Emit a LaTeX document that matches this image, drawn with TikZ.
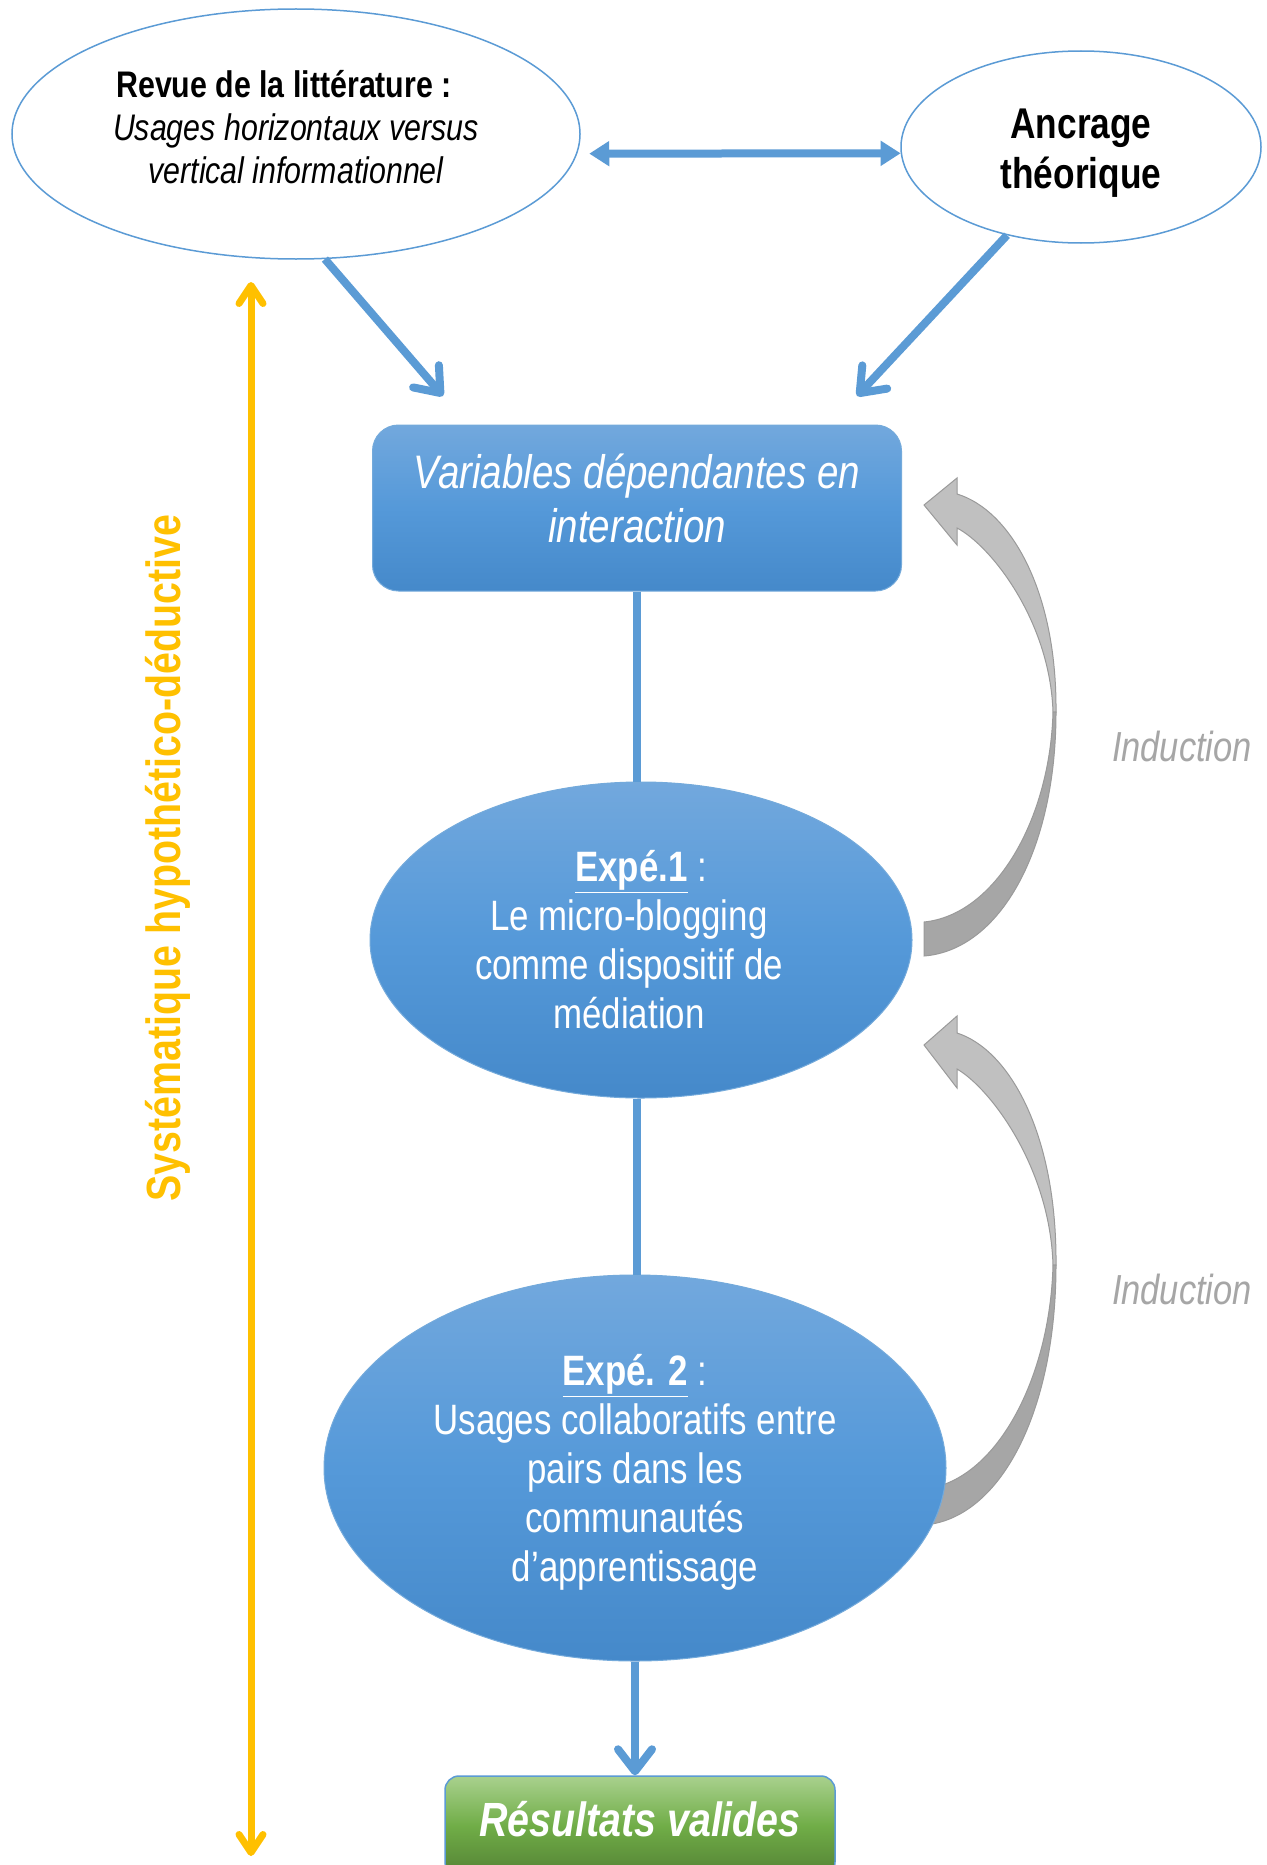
\documentclass[tikz,border=0pt]{standalone}
\usepackage{fontspec}
\setmainfont[FakeStretch=0.82]{Liberation Sans}
\usetikzlibrary{arrows.meta,shapes.geometric,shadings}
\definecolor{bl}{HTML}{5B9BD5}
\definecolor{btop}{HTML}{72A8DD}
\definecolor{bmid}{HTML}{5599D9}
\definecolor{bbot}{HTML}{4589CA}
\definecolor{gtop}{HTML}{A9D18E}
\definecolor{gmid}{HTML}{70AD47}
\definecolor{gbot}{HTML}{548235}
\definecolor{yel}{HTML}{FFC000}
\definecolor{glight}{HTML}{C0C0C0}
\definecolor{gdark}{HTML}{A6A6A6}
\definecolor{gline}{HTML}{9A9A9A}
\tikzset{
  litnode/.style={ellipse, draw=bl, line width=1.5pt, fill=white, inner sep=0pt, align=center},
  bluefill/.style={top color=btop, bottom color=bbot, middle color=bmid, draw=bl!85!white, line width=1pt, text=white, align=center, inner sep=0pt},
  bline/.style={draw=bl, line width=8pt},
  barrow/.style={draw=bl, line width=8pt, -{Straight Barb[length=22pt,width=34pt,round]}},
  dblarrow/.style={draw=bl, line width=8pt, {Triangle[length=20pt,width=24pt]}-{Triangle[length=20pt,width=24pt]}},
  yarrow/.style={draw=yel, line width=7pt, {Straight Barb[length=18pt,width=24pt,round]}-{Straight Barb[length=18pt,width=24pt,round]}},
  indlight/.style={fill=glight, draw=gline, line width=1pt},
  inddark/.style={fill=gdark, draw=gline, line width=1pt},
  indtext/.style={text=gdark, font=\itshape\fontsize{42}{48}\selectfont}
}
\newcommand{\padr}{\hspace*{24pt}\mbox{}}
\begin{document}
\begin{tikzpicture}[x=1pt,y=-1pt]
\useasboundingbox (0,0) rectangle (1266,1865);
\clip (0,0) rectangle (1266,1865);
\fill[white] (0,0) rectangle (1266,1865);

% induction arrow 1
\path[indlight] (924,505) -- (957,478) -- (957,494) .. controls (1010,510) and (1057,590) .. (1056,712)
  -- (1053,712) .. controls (1050,620) and (990,545) .. (957,528) -- (957,545) -- cycle;
\path[inddark] (1056,712) .. controls (1056,850) and (1000,950) .. (924,956) -- (924,922)
  .. controls (995,915) and (1050,820) .. (1053,712) -- cycle;
% induction arrow 2
\path[indlight] (924,1045) -- (957,1016) -- (957,1033) .. controls (1010,1050) and (1057,1135) .. (1056,1265)
  -- (1053,1265) .. controls (1050,1167) and (990,1088) .. (957,1069) -- (957,1088) -- cycle;
\path[inddark] (1056,1265) .. controls (1056,1412) and (1000,1519) .. (924,1525) -- (924,1489)
  .. controls (995,1482) and (1050,1380) .. (1053,1265) -- cycle;

\node[indtext] (ind1) at (1182,746) {Induction};
\node[indtext] (ind2) at (1182,1289) {Induction};

% top ellipses
\node[litnode, minimum width=568pt, minimum height=250pt, font=\fontsize{37}{43}\selectfont] (revue) at (296,134)
  {{\bfseries Revue de la littérature :}\padr\\{\itshape Usages horizontaux versus}\\{\itshape vertical informationnel}\\[-28pt]};
\node[litnode, minimum width=360pt, minimum height=192pt, font=\bfseries\fontsize{43}{50}\selectfont] (anc) at (1081,147)
  {Ancrage\\théorique\\[-53pt]};

% variables box
\node[bluefill, rectangle, rounded corners=26pt, minimum width=529pt, minimum height=166pt, font=\itshape\fontsize{47}{54}\selectfont] (var) at (637,508)
  {Variables dépendantes en\\interaction\\[-34pt]};

% experiment ellipses
\node[bluefill, ellipse, minimum width=542pt, minimum height=316pt, font=\fontsize{42.5}{49}\selectfont] (e1) at (641,940)
  {{\bfseries\underline{Expé.1}} :\\Le micro-blogging\padr\\comme dispositif de\padr\\médiation\padr};
\node[bluefill, ellipse, minimum width=622pt, minimum height=386pt, font=\fontsize{42.5}{49}\selectfont] (e2) at (635,1468)
  {{\bfseries\underline{Expé. 2}} :\\Usages collaboratifs entre\\pairs dans les\\communautés\\d’apprentissage\\[-49pt]};

% results
\node[rectangle, rounded corners=14pt, top color=gtop, bottom color=gbot, middle color=gmid, draw=bl, line width=1.5pt,
  minimum width=390pt, minimum height=100pt, inner sep=0pt, text height=32pt, text depth=12pt,
  text=white, font=\bfseries\itshape\fontsize{48}{56}\selectfont] (res) at (640,1826)
  {Résultats valides};

% connectors
\coordinate (p1) at (443,396);
\coordinate (p2) at (857,396);
\draw[barrow] (revue.-77) -- (p1);
\draw[barrow] (anc.-130) -- (p2);
\draw[dblarrow, shorten <=12pt] (revue.-4) -- (anc.-178);
\draw[bline] (var.south) -- (var.south |- e1.north);
\draw[bline] (var.south |- e1.south) -- (var.south |- e2.north);
\draw[barrow] (e2.south) -- (e2.south |- res.north);

% yellow axis
\coordinate (ytop) at (251,282);
\coordinate (ybot) at (251,1856);
\draw[yarrow] (ytop) -- (ybot);
\node[rotate=90, text=yel, font=\bfseries\fontsize{48}{56}\selectfont] (sys) at (168,858) {Systématique hypothético-déductive};
\end{tikzpicture}
\end{document}
